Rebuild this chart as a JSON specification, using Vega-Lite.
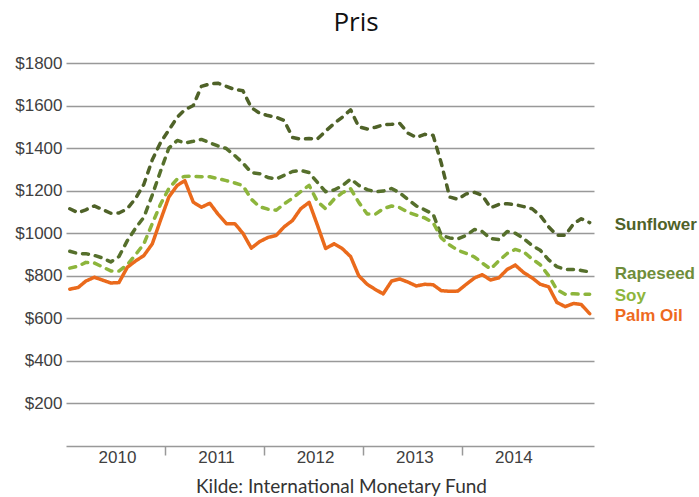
{
  "$schema": "https://vega.github.io/schema/vega-lite/v6.json",
  "autosize": {"type": "none"},
  "padding": {"left": 66, "top": 63, "right": 105, "bottom": 51},
  "width": 528,
  "height": 383,
  "title": {"text": "Pris", "font": "Open Sans", "fontSize": 26, "fontWeight": "normal", "color": "#111111", "anchor": "middle", "frame": "group", "dx": 26, "offset": 18},
  "data": {"values": [
    {"date": "2010-01-15", "Sunflower": 1115, "Rapeseed": 915, "Soy": 836, "Palm Oil": 737},
    {"date": "2010-02-15", "Sunflower": 1096, "Rapeseed": 904, "Soy": 845, "Palm Oil": 745},
    {"date": "2010-03-15", "Sunflower": 1110, "Rapeseed": 904, "Soy": 863, "Palm Oil": 775},
    {"date": "2010-04-15", "Sunflower": 1128, "Rapeseed": 896, "Soy": 860, "Palm Oil": 793},
    {"date": "2010-05-15", "Sunflower": 1112, "Rapeseed": 884, "Soy": 842, "Palm Oil": 780},
    {"date": "2010-06-15", "Sunflower": 1094, "Rapeseed": 865, "Soy": 823, "Palm Oil": 766},
    {"date": "2010-07-15", "Sunflower": 1095, "Rapeseed": 890, "Soy": 822, "Palm Oil": 768},
    {"date": "2010-08-15", "Sunflower": 1115, "Rapeseed": 965, "Soy": 852, "Palm Oil": 840},
    {"date": "2010-09-15", "Sunflower": 1165, "Rapeseed": 1025, "Soy": 900, "Palm Oil": 870},
    {"date": "2010-10-15", "Sunflower": 1230, "Rapeseed": 1075, "Soy": 950, "Palm Oil": 895},
    {"date": "2010-11-15", "Sunflower": 1345, "Rapeseed": 1180, "Soy": 1045, "Palm Oil": 950},
    {"date": "2010-12-15", "Sunflower": 1425, "Rapeseed": 1290, "Soy": 1135, "Palm Oil": 1060},
    {"date": "2011-01-15", "Sunflower": 1485, "Rapeseed": 1400, "Soy": 1210, "Palm Oil": 1170},
    {"date": "2011-02-15", "Sunflower": 1545, "Rapeseed": 1436, "Soy": 1255, "Palm Oil": 1225},
    {"date": "2011-03-15", "Sunflower": 1580, "Rapeseed": 1424, "Soy": 1267, "Palm Oil": 1247},
    {"date": "2011-04-15", "Sunflower": 1600, "Rapeseed": 1432, "Soy": 1268, "Palm Oil": 1146},
    {"date": "2011-05-15", "Sunflower": 1690, "Rapeseed": 1441, "Soy": 1265, "Palm Oil": 1122},
    {"date": "2011-06-15", "Sunflower": 1702, "Rapeseed": 1425, "Soy": 1265, "Palm Oil": 1141},
    {"date": "2011-07-15", "Sunflower": 1705, "Rapeseed": 1410, "Soy": 1257, "Palm Oil": 1090},
    {"date": "2011-08-15", "Sunflower": 1690, "Rapeseed": 1398, "Soy": 1247, "Palm Oil": 1045},
    {"date": "2011-09-15", "Sunflower": 1675, "Rapeseed": 1365, "Soy": 1236, "Palm Oil": 1045},
    {"date": "2011-10-15", "Sunflower": 1670, "Rapeseed": 1330, "Soy": 1224, "Palm Oil": 1000},
    {"date": "2011-11-15", "Sunflower": 1590, "Rapeseed": 1285, "Soy": 1160, "Palm Oil": 930},
    {"date": "2011-12-15", "Sunflower": 1565, "Rapeseed": 1280, "Soy": 1125, "Palm Oil": 960},
    {"date": "2012-01-15", "Sunflower": 1553, "Rapeseed": 1262, "Soy": 1113, "Palm Oil": 980},
    {"date": "2012-02-15", "Sunflower": 1545, "Rapeseed": 1255, "Soy": 1108, "Palm Oil": 990},
    {"date": "2012-03-15", "Sunflower": 1530, "Rapeseed": 1272, "Soy": 1138, "Palm Oil": 1030},
    {"date": "2012-04-15", "Sunflower": 1450, "Rapeseed": 1290, "Soy": 1165, "Palm Oil": 1060},
    {"date": "2012-05-15", "Sunflower": 1442, "Rapeseed": 1295, "Soy": 1195, "Palm Oil": 1115},
    {"date": "2012-06-15", "Sunflower": 1445, "Rapeseed": 1285, "Soy": 1225, "Palm Oil": 1145},
    {"date": "2012-07-15", "Sunflower": 1442, "Rapeseed": 1240, "Soy": 1150, "Palm Oil": 1040},
    {"date": "2012-08-15", "Sunflower": 1480, "Rapeseed": 1195, "Soy": 1115, "Palm Oil": 928},
    {"date": "2012-09-15", "Sunflower": 1515, "Rapeseed": 1203, "Soy": 1160, "Palm Oil": 950},
    {"date": "2012-10-15", "Sunflower": 1545, "Rapeseed": 1223, "Soy": 1190, "Palm Oil": 928},
    {"date": "2012-11-15", "Sunflower": 1580, "Rapeseed": 1255, "Soy": 1209, "Palm Oil": 890},
    {"date": "2012-12-15", "Sunflower": 1500, "Rapeseed": 1225, "Soy": 1145, "Palm Oil": 800},
    {"date": "2013-01-15", "Sunflower": 1490, "Rapeseed": 1205, "Soy": 1090, "Palm Oil": 760},
    {"date": "2013-02-15", "Sunflower": 1498, "Rapeseed": 1195, "Soy": 1090, "Palm Oil": 735},
    {"date": "2013-03-15", "Sunflower": 1510, "Rapeseed": 1198, "Soy": 1115, "Palm Oil": 715},
    {"date": "2013-04-15", "Sunflower": 1512, "Rapeseed": 1210, "Soy": 1128, "Palm Oil": 775},
    {"date": "2013-05-15", "Sunflower": 1516, "Rapeseed": 1190, "Soy": 1120, "Palm Oil": 785},
    {"date": "2013-06-15", "Sunflower": 1470, "Rapeseed": 1158, "Soy": 1098, "Palm Oil": 770},
    {"date": "2013-07-15", "Sunflower": 1450, "Rapeseed": 1128, "Soy": 1085, "Palm Oil": 752},
    {"date": "2013-08-15", "Sunflower": 1465, "Rapeseed": 1110, "Soy": 1072, "Palm Oil": 760},
    {"date": "2013-09-15", "Sunflower": 1460, "Rapeseed": 1090, "Soy": 1050, "Palm Oil": 758},
    {"date": "2013-10-15", "Sunflower": 1330, "Rapeseed": 990, "Soy": 978, "Palm Oil": 730},
    {"date": "2013-11-15", "Sunflower": 1170, "Rapeseed": 978, "Soy": 945, "Palm Oil": 727},
    {"date": "2013-12-15", "Sunflower": 1160, "Rapeseed": 973, "Soy": 920, "Palm Oil": 728},
    {"date": "2014-01-15", "Sunflower": 1185, "Rapeseed": 990, "Soy": 905, "Palm Oil": 760},
    {"date": "2014-02-15", "Sunflower": 1192, "Rapeseed": 1018, "Soy": 888, "Palm Oil": 790},
    {"date": "2014-03-15", "Sunflower": 1178, "Rapeseed": 1008, "Soy": 860, "Palm Oil": 805},
    {"date": "2014-04-15", "Sunflower": 1120, "Rapeseed": 975, "Soy": 832, "Palm Oil": 780},
    {"date": "2014-05-15", "Sunflower": 1135, "Rapeseed": 970, "Soy": 870, "Palm Oil": 790},
    {"date": "2014-06-15", "Sunflower": 1139, "Rapeseed": 1008, "Soy": 905, "Palm Oil": 830},
    {"date": "2014-07-15", "Sunflower": 1134, "Rapeseed": 1000, "Soy": 924, "Palm Oil": 850},
    {"date": "2014-08-15", "Sunflower": 1125, "Rapeseed": 975, "Soy": 912, "Palm Oil": 815},
    {"date": "2014-09-15", "Sunflower": 1115, "Rapeseed": 942, "Soy": 879, "Palm Oil": 790},
    {"date": "2014-10-15", "Sunflower": 1083, "Rapeseed": 920, "Soy": 852, "Palm Oil": 760},
    {"date": "2014-11-15", "Sunflower": 1030, "Rapeseed": 875, "Soy": 800, "Palm Oil": 748},
    {"date": "2014-12-15", "Sunflower": 990, "Rapeseed": 843, "Soy": 735, "Palm Oil": 675},
    {"date": "2015-01-15", "Sunflower": 990, "Rapeseed": 830, "Soy": 713, "Palm Oil": 655},
    {"date": "2015-02-15", "Sunflower": 1045, "Rapeseed": 830, "Soy": 716, "Palm Oil": 670},
    {"date": "2015-03-15", "Sunflower": 1068, "Rapeseed": 825, "Soy": 713, "Palm Oil": 665},
    {"date": "2015-04-15", "Sunflower": 1050, "Rapeseed": 818, "Soy": 713, "Palm Oil": 622}
  ]},
  "transform": [{"fold": ["Sunflower", "Rapeseed", "Soy", "Palm Oil"], "as": ["series", "price"]}],
  "encoding": {
    "x": {
      "field": "date", "type": "temporal", "title": "Kilde: International Monetary Fund",
      "scale": {"type": "utc", "domain": [{"year": 2010, "month": 1, "date": 1, "utc": true}, {"year": 2015, "month": 5, "date": 1, "utc": true}]},
      "axis": {
        "values": [
          {"year": 2010, "month": 1, "date": 1, "utc": true},
          {"year": 2011, "month": 1, "date": 1, "utc": true},
          {"year": 2012, "month": 1, "date": 1, "utc": true},
          {"year": 2013, "month": 1, "date": 1, "utc": true},
          {"year": 2014, "month": 1, "date": 1, "utc": true}
        ],
        "labelExpr": "utcFormat(datum.value, '%Y')",
        "labelOffset": 51,
        "labelFont": "Liberation Sans",
        "labelFontSize": 17,
        "labelColor": "#404040",
        "labelPadding": -6,
        "labelFlush": false,
        "labelOverlap": false,
        "tickSize": 9,
        "tickWidth": 1.5,
        "tickColor": {"condition": {"test": "utcyear(datum.value) == 2010", "value": "transparent"}, "value": "#999999"},
        "domainColor": "#999999",
        "domainWidth": 1.5,
        "grid": false,
        "titleFont": "Lato",
        "titleFontSize": 19,
        "titleFontWeight": "normal",
        "titleColor": "#333333",
        "titleX": 275,
        "titleY": 46,
        "titleAlign": "center",
        "titleBaseline": "alphabetic"
      }
    },
    "y": {
      "field": "price", "type": "quantitative", "title": null,
      "scale": {"domain": [0, 1800], "nice": false},
      "axis": {
        "values": [200, 400, 600, 800, 1000, 1200, 1400, 1600, 1800],
        "labelExpr": "'$' + datum.value",
        "ticks": false,
        "domain": false,
        "labelPadding": 4,
        "labelFont": "Liberation Sans",
        "labelFontSize": 17,
        "labelColor": "#404040",
        "gridColor": "#999999",
        "gridWidth": 1.5
      }
    }
  },
  "layer": [
    {
      "mark": {"type": "line", "strokeWidth": 3.5, "strokeCap": "round", "strokeJoin": "round"},
      "encoding": {
        "color": {"field": "series", "type": "nominal", "legend": null,
          "scale": {"domain": ["Sunflower", "Rapeseed", "Soy", "Palm Oil"], "range": ["#4f6228", "#56702c", "#8db53c", "#ea6a1c"]}},
        "strokeDash": {"field": "series", "type": "nominal", "legend": null,
          "scale": {"domain": ["Sunflower", "Rapeseed", "Soy", "Palm Oil"], "range": [[6, 7], [6, 7], [6, 7], [1, 0]]}}
      }
    },
    {
      "mark": {"type": "text", "align": "left", "baseline": "middle", "dx": 25, "dy": 2, "font": "Liberation Sans", "fontSize": 17, "fontWeight": "bold"},
      "encoding": {
        "x": {"aggregate": "max", "field": "date", "type": "temporal", "title": "Kilde: International Monetary Fund"},
        "y": {"aggregate": {"argmax": "date"}, "field": "price", "type": "quantitative", "title": null},
        "text": {"field": "series"},
        "color": {"field": "series", "type": "nominal", "legend": null,
          "scale": {"domain": ["Sunflower", "Rapeseed", "Soy", "Palm Oil"], "range": ["#4f6228", "#6f8d3a", "#8db53c", "#ee6a1e"]}}
      }
    }
  ],
  "resolve": {"scale": {"color": "independent"}},
  "config": {"view": {"stroke": null}}
}
